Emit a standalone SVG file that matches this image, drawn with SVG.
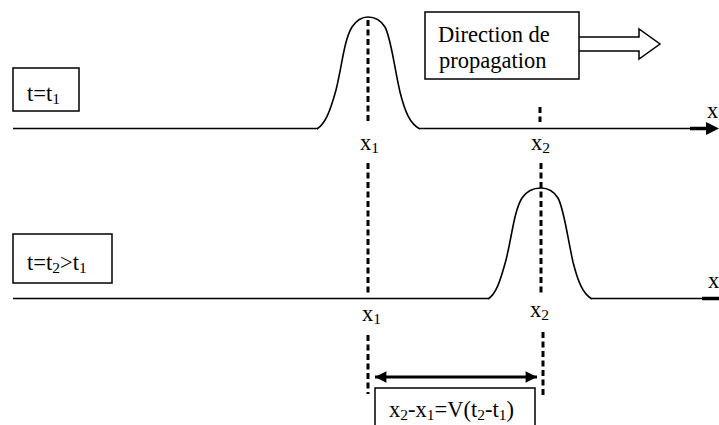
<svg xmlns="http://www.w3.org/2000/svg" width="719" height="425" viewBox="0 0 719 425">
<style>
  text { font-family: "Liberation Serif", "Times New Roman", serif; font-size: 22.5px; fill: #000; }
  .sub { font-size: 15.5px; }
  .axis { stroke: #000; stroke-width: 1.5; fill: none; }
  .thick { stroke: #000; stroke-width: 3.5; fill: none; }
  .pulse { stroke: #000; stroke-width: 1.6; fill: none; }
  .dash { stroke: #000; stroke-width: 3; stroke-dasharray: 6 3.5; fill: none; }
  .box { stroke: #000; stroke-width: 1.5; fill: #fff; }
</style>
<defs>
  <marker id="ah" viewBox="0 0 10 10" refX="10" refY="5" markerWidth="4.5" markerHeight="3.8" orient="auto-start-reverse" markerUnits="strokeWidth">
    <path d="M0,0 L10,5 L0,10 Z" fill="#000"/>
  </marker>
</defs>

<g id="connectors">
  <path class="axis" d="M13,128.5 H318 M420,128.5 H690"/>
  <path class="thick" d="M690,128.5 H708"/>
  <path d="M706,122 L719,128.5 L706,135 Z" fill="#000"/>
  <path class="axis" d="M13,298.5 H488 M592,298.5 H702"/>
  <path class="thick" d="M702,298.5 H719"/>
  <path class="dash" d="M368,20 V122"/>
  <path class="dash" d="M540,107 V122"/>
  <path class="dash" d="M368,163 V293"/>
  <path class="dash" d="M541,163 V293"/>
  <path class="dash" d="M368,335 V394"/>
  <path class="dash" d="M543,332 V396"/>
  <path d="M375,377 H537" stroke="#000" stroke-width="3" fill="none" marker-start="url(#ah)" marker-end="url(#ah)"/>
  <path class="box" stroke-width="1.2" d="M579,37 H639 V29 L660,44 L639,59 V51 H579"/>
</g>

<g id="pulse1">
  <path class="pulse" d="M317,129 C325,124 330,112 336,90 C342,66 344,40 352,27 C358,18 364,17 368,17 C374,17 380,19 385,27 C391,38 394,66 400,92 C405,112 410,124 420,129"/>
</g>
<g id="pulse2">
  <path class="pulse" d="M488,299 C496,294 500,282 506,260 C512,236 514,211 522,198 C528,189 535,188 541,188 C547,188 553,190 558,198 C564,209 567,235 573,262 C578,282 583,294 592,299"/>
</g>

<g id="label-t1">
  <rect class="box" x="13" y="68" width="66" height="43"/>
  <text x="27" y="101">t=t<tspan class="sub" dy="3">1</tspan></text>
</g>
<g id="label-t2">
  <rect class="box" x="13" y="234" width="99" height="49"/>
  <text x="27" y="270">t=t<tspan class="sub" dy="3">2</tspan><tspan dy="-3">&gt;t</tspan><tspan class="sub" dy="3">1</tspan></text>
</g>
<g id="direction">
  <rect class="box" x="425" y="12" width="154" height="67"/>
  <text x="438" y="42">Direction de</text>
  <text x="439" y="68">propagation</text>
</g>
<g id="formula">
  <path class="box" d="M375,430 V388 H535 V430"/>
  <text x="389" y="417">x<tspan class="sub" dy="3">2</tspan><tspan dy="-3">-x</tspan><tspan class="sub" dy="3">1</tspan><tspan dy="-3">=V(t</tspan><tspan class="sub" dy="3">2</tspan><tspan dy="-3">-t</tspan><tspan class="sub" dy="3">1</tspan><tspan dy="-3">)</tspan></text>
</g>

<g id="axis-labels">
  <text x="707" y="118">x</text>
  <text x="708" y="288">x</text>
  <text x="360" y="150">x<tspan class="sub" dy="3">1</tspan></text>
  <text x="531" y="150">x<tspan class="sub" dy="3">2</tspan></text>
  <text x="362" y="321">x<tspan class="sub" dy="3">1</tspan></text>
  <text x="530" y="317">x<tspan class="sub" dy="3">2</tspan></text>
</g>
</svg>
